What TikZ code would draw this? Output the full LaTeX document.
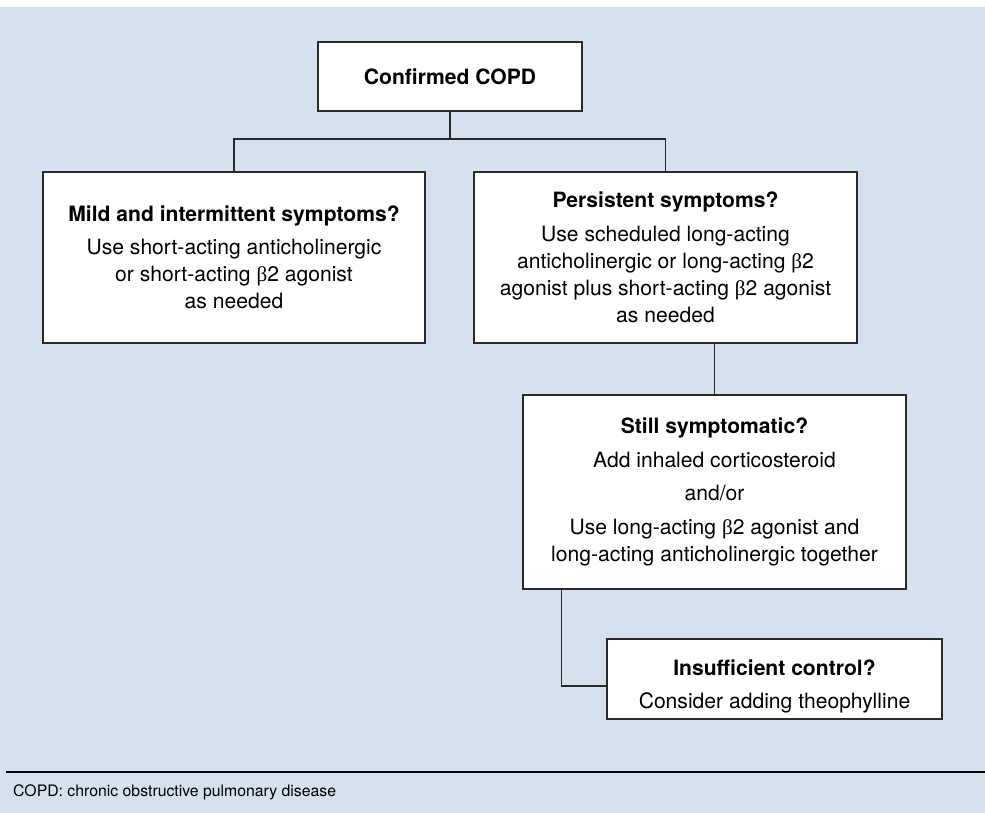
\documentclass[tikz,border=0pt]{standalone}
\usepackage{fontspec}
\setmainfont{TeX Gyre Heros}
\newfontfamily\betafont{Liberation Serif}
\newcommand{\bt}{{\betafont β}}
\definecolor{bgblue}{HTML}{D5E1EF}
\definecolor{linec}{HTML}{2A2A2A}
\begin{document}
\begin{tikzpicture}[x=1pt,y=-1pt,
  boxtext/.style={align=center, inner sep=0pt, font=\fontsize{21.1}{26.9}\selectfont},
  box/.style={draw=linec, line width=1.2pt, fill=white, boxtext},
  conn/.style={draw=linec, line width=1.1pt}]
\useasboundingbox (0,0) rectangle (985,813);
\fill[white] (0,0) rectangle (985,813);
\fill[bgblue] (0,7) rectangle (985,813);

\node[box, minimum width=264pt, minimum height=69pt] (c) at (450,76.5) {\textbf{Confirmed COPD}};
\node[box, minimum width=382pt, minimum height=171pt] (l) at (234,257.5)
  {\textbf{Mild and intermittent symptoms?}\\[6pt]
   Use short-acting anticholinergic\\
   or short-acting \bt2 agonist\\
   as needed};
\node[box, minimum width=383pt, minimum height=171pt] (r) at (665.5,257.5)
  {\textbf{Persistent symptoms?}\\[7pt]
   Use scheduled long-acting\\
   anticholinergic or long-acting \bt2\\
   agonist plus short-acting \bt2 agonist\\
   as needed};
\node[box, minimum width=383pt, minimum height=194pt] (s) at (714.5,492)
  {\textbf{Still symptomatic?}\\[7pt]
   Add inhaled corticosteroid\\[6pt]
   and/or\\[8pt]
   Use long-acting \bt2 agonist and\\
   long-acting anticholinergic together};
\node[box, minimum width=335pt, minimum height=80pt] (i) at (774.5,679) {};
\node[boxtext] (it) at ([yshift=-7pt]i.center)
  {\textbf{Insufficient control?}\\[6pt]
   Consider adding theophylline};

\coordinate (j) at (450,139);
\draw[conn] (c.south) -- (j);
\draw[conn] (l.north) |- (j) -| (r.north);
\draw[conn] (s.north) -- (s.north |- r.south);
\draw[conn] ([xshift=39pt]s.south west) |- ([yshift=-7pt]i.west);

\draw[black, line width=1.5pt] (6,772) -- (985,772);
\node[anchor=west, inner sep=0pt, font=\fontsize{15.8}{18}\selectfont] (f) at (13,792)
  {COPD: chronic obstructive pulmonary disease};
\end{tikzpicture}
\end{document}
